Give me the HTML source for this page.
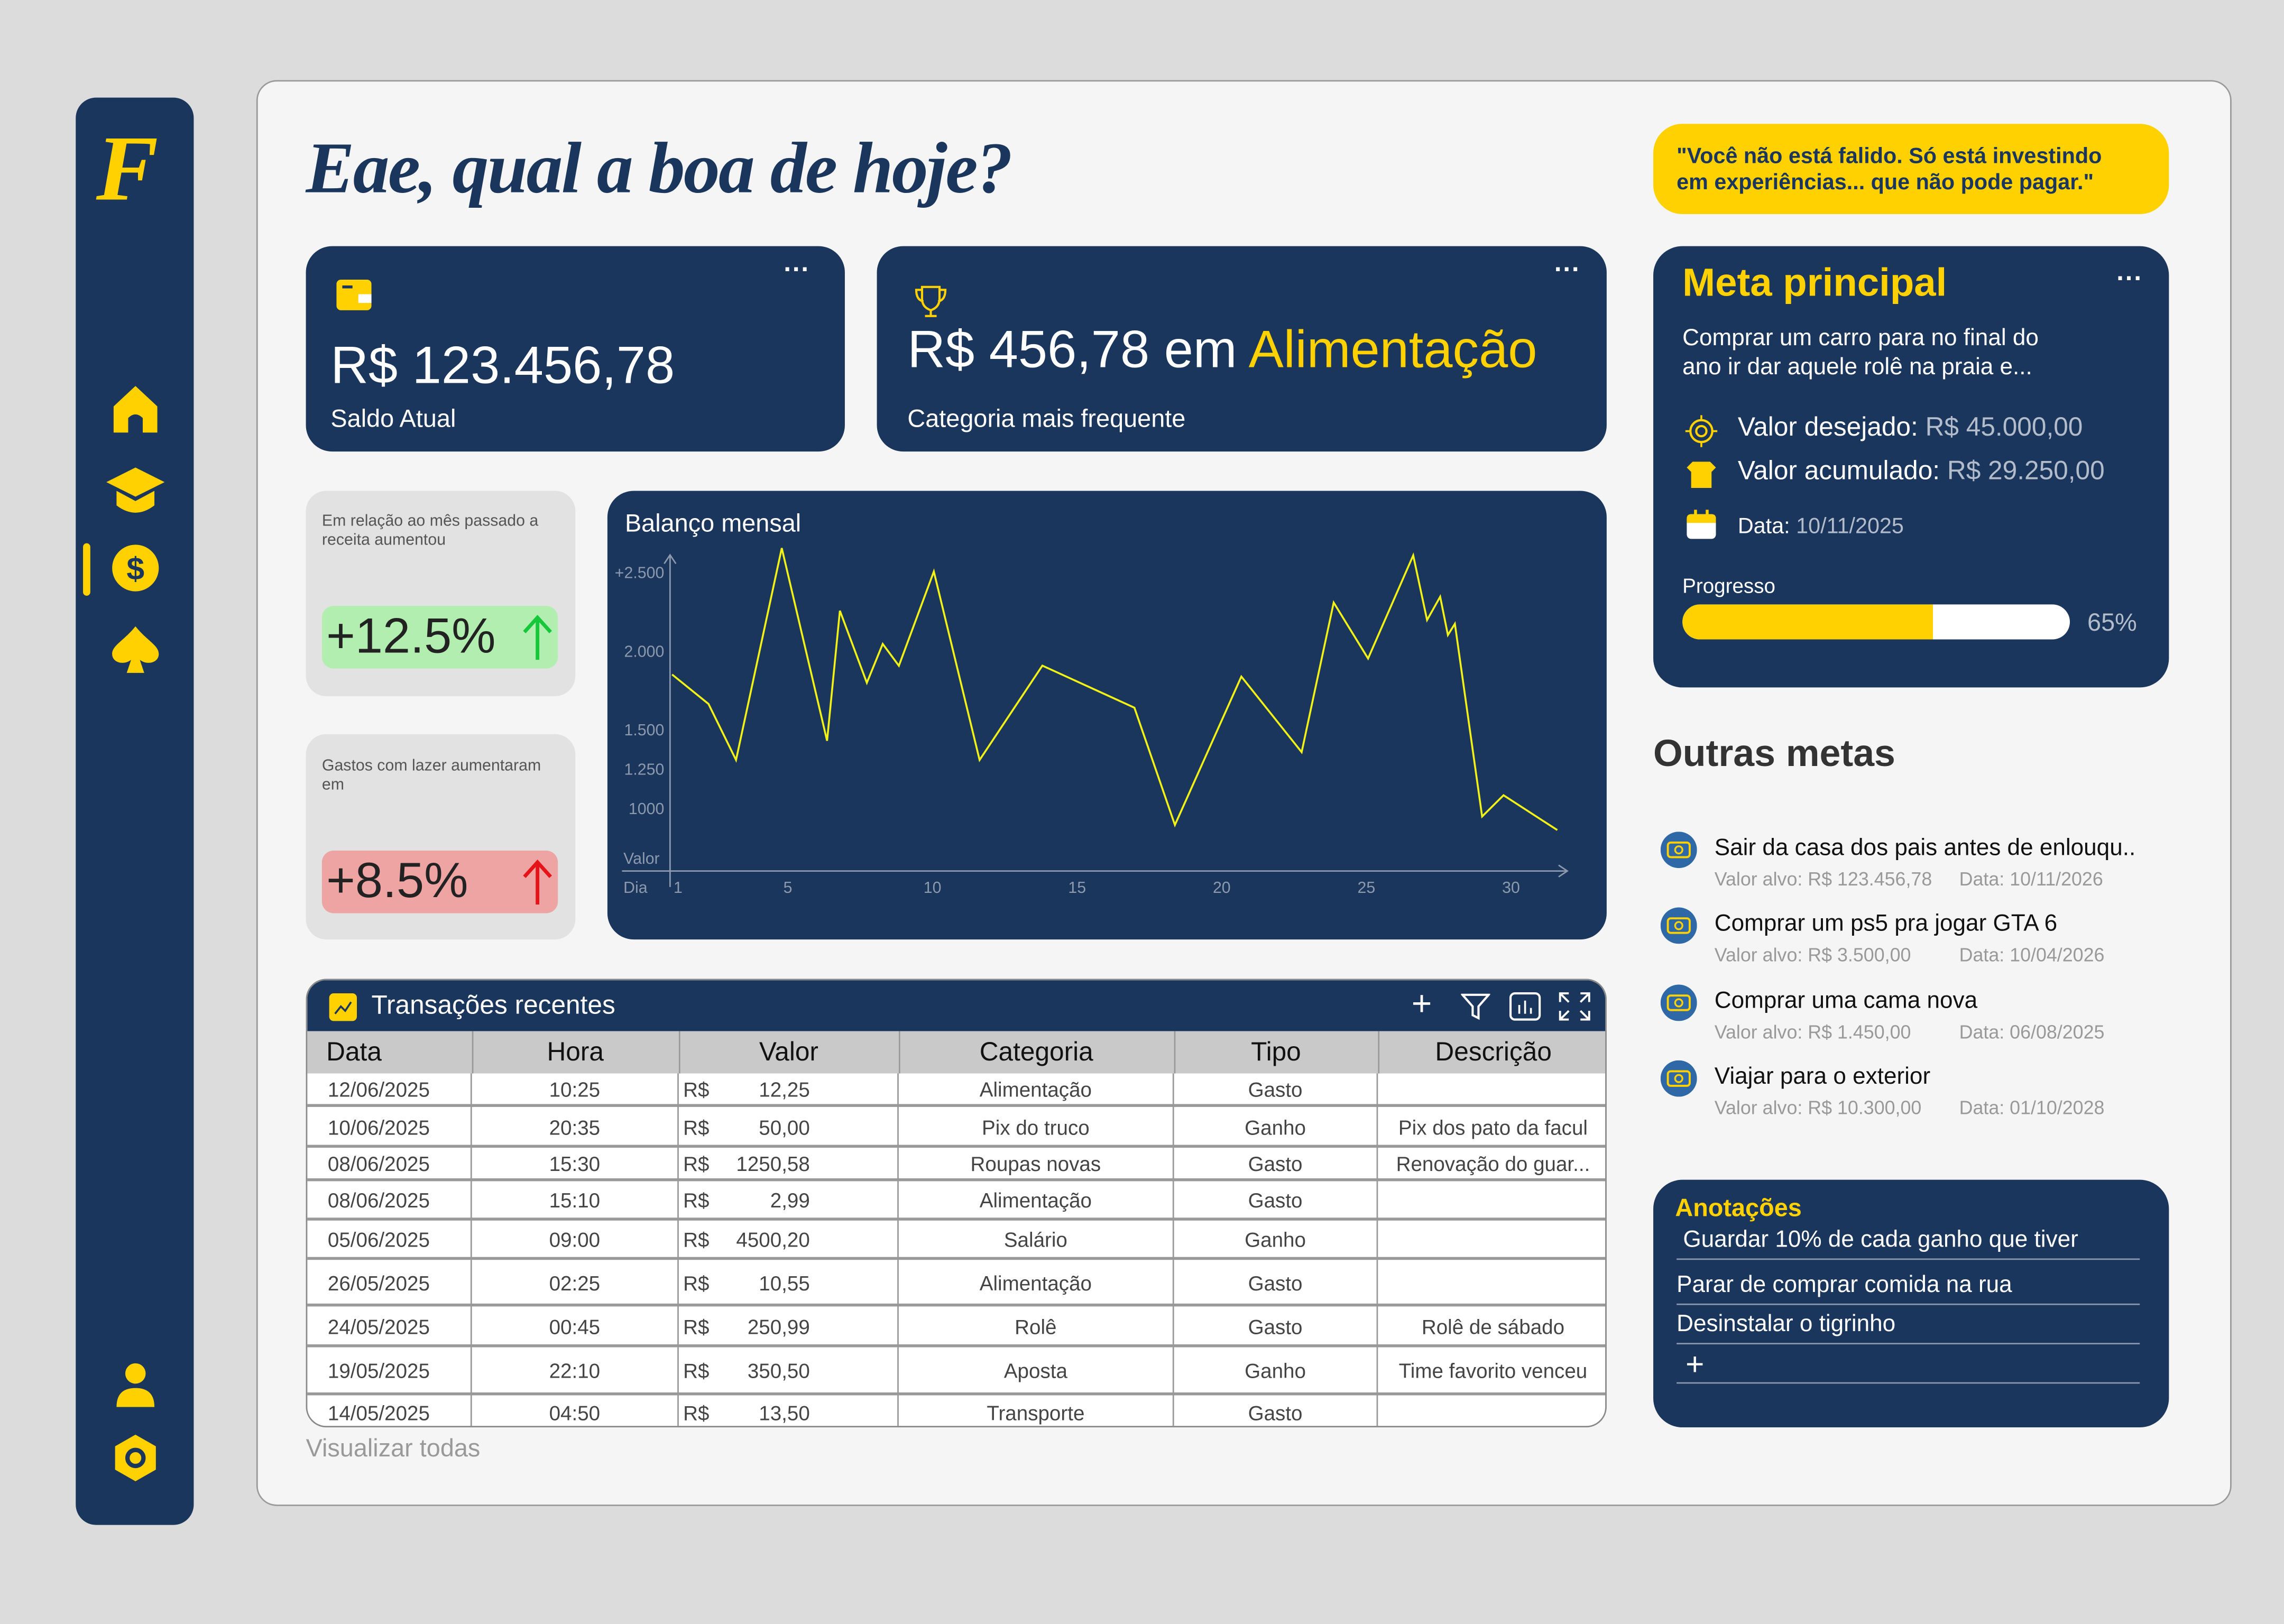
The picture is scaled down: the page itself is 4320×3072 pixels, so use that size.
<!DOCTYPE html>
<html><head><meta charset="utf-8">
<style>
html,body{margin:0;padding:0;}
body{width:4320px;height:3072px;overflow:hidden;background:#dcdcdc;font-family:"Liberation Sans",sans-serif;}
#root{position:absolute;left:0;top:0;width:1568px;height:1115px;transform:scale(2.75510,2.75516);transform-origin:0 0;background:#dcdcdc;}
.a{position:absolute;}
.dark{background:#1b365d;color:#fff;}
.t{position:absolute;white-space:nowrap;}
table{border-collapse:collapse;}
</style></head>
<body>
<div id="root">
<!-- sidebar -->
<div class="a dark" style="left:52px;top:67px;width:81px;height:980px;border-radius:14px;">
 <div class="t" style="left:14px;top:12px;font:italic bold 64px 'Liberation Serif',serif;color:#ffd100;">F</div>
 <svg class="a" style="left:24px;top:196px" width="34" height="36" viewBox="0 0 34 36"><path d="M17 2 L32 16 V34 H22 V24 Q17 19 12 24 V34 H2 V16 Z" fill="#ffd100"/></svg>
 <svg class="a" style="left:20px;top:252px" width="42" height="36" viewBox="0 0 42 36"><path d="M21 2 L41 12 L21 22 L1 12 Z" fill="#ffd100"/><path d="M8 18 V28 Q21 38 34 28 V18 L21 25 Z" fill="#ffd100"/></svg>
 <div class="a" style="left:5px;top:306px;width:5px;height:36px;background:#ffd100;border-radius:3px"></div>
 <svg class="a" style="left:24px;top:306px" width="34" height="34" viewBox="0 0 34 34"><circle cx="17" cy="17" r="16" fill="#ffd100"/><text x="17" y="25" text-anchor="middle" font-size="22" font-family="Liberation Sans" font-weight="bold" fill="#1b365d">$</text></svg>
 <svg class="a" style="left:23px;top:361px" width="36" height="36" viewBox="0 0 36 36"><path d="M18 2 C10 12 2 15 2 21 C2 27 10 29 15 25 L12 34 H24 L21 25 C26 29 34 27 34 21 C34 15 26 12 18 2Z" fill="#ffd100"/></svg>
 <svg class="a" style="left:27px;top:868px" width="28" height="32" viewBox="0 0 28 32"><circle cx="14" cy="8" r="7" fill="#ffd100"/><path d="M1 31 Q1 18 14 18 Q27 18 27 31 Z" fill="#ffd100"/></svg>
 <svg class="a" style="left:25px;top:917px" width="32" height="34" viewBox="0 0 32 34"><path d="M16 1 L30 9 V25 L16 33 L2 25 V9 Z" fill="#ffd100"/><circle cx="16" cy="17" r="5.5" fill="none" stroke="#1b365d" stroke-width="3"/></svg>
</div>
<!-- main panel -->
<div class="a" style="left:176px;top:55px;width:1354px;height:977px;background:#f5f5f5;border:1px solid #9a9a9a;border-radius:14px;"></div>
<div class="t" style="left:210px;top:86px;font:italic bold 50px 'Liberation Serif',serif;color:#1b365d;letter-spacing:-1px">Eae, qual a boa de hoje?</div>

<!-- card 1 -->
<div class="a dark" style="left:210px;top:169px;width:370px;height:141px;border-radius:18px;">
 <div class="a" style="left:21px;top:23px;width:24px;height:21px;background:#ffd100;border-radius:3px"><div class="a" style="left:15px;top:10px;width:9px;height:6px;background:#fff"></div><div class="a" style="left:4px;top:4px;width:7px;height:2px;background:#1b365d"></div></div>
 <div class="t" style="left:328px;top:6px;font-size:18px;font-weight:bold">···</div>
 <div class="t" style="left:17px;top:61px;font-size:36px">R$ 123.456,78</div>
 <div class="t" style="left:17px;top:109px;font-size:17px">Saldo Atual</div>
</div>
<!-- card 2 -->
<div class="a dark" style="left:602px;top:169px;width:501px;height:141px;border-radius:18px;">
 <svg class="a" style="left:24px;top:26px" width="26" height="24" viewBox="0 0 26 24"><path d="M7 2 H19 V10 Q19 16 13 18 Q7 16 7 10 Z M7 4 H3 Q3 11 8 12 M19 4 H23 Q23 11 18 12 M13 18 V22 M9 22 H17" fill="none" stroke="#ffd100" stroke-width="1.5"/></svg>
 <div class="t" style="left:465px;top:6px;font-size:18px;font-weight:bold">···</div>
 <div class="t" style="left:21px;top:50px;font-size:36px">R$ 456,78 em <span style="color:#ffd100">Alimentação</span></div>
 <div class="t" style="left:21px;top:109px;font-size:17px">Categoria mais frequente</div>
</div>
<!-- small cards -->
<div class="a" style="left:210px;top:337px;width:185px;height:141px;background:#e2e2e2;border-radius:14px">
 <div class="a" style="left:11px;top:15px;width:165px;font-size:11px;color:#555;line-height:13px">Em relação ao mês passado a receita aumentou</div>
 <div class="a" style="left:11px;top:79px;width:162px;height:43px;background:#b2eeb0;border-radius:8px">
  <div class="t" style="left:3px;top:2px;font-size:34px;color:#222">+12.5%</div>
  <svg class="a" style="left:137px;top:5px" width="22" height="34" viewBox="0 0 22 34"><path d="M11 32 V3 M2 13 L11 3 L20 13" fill="none" stroke="#16c73a" stroke-width="2.5"/></svg>
 </div>
</div>
<div class="a" style="left:210px;top:504px;width:185px;height:141px;background:#e2e2e2;border-radius:14px">
 <div class="a" style="left:11px;top:16px;width:165px;font-size:11px;color:#555;line-height:13px">Gastos com lazer aumentaram em</div>
 <div class="a" style="left:11px;top:80px;width:162px;height:43px;background:#eea4a3;border-radius:8px">
  <div class="t" style="left:3px;top:2px;font-size:34px;color:#222">+8.5%</div>
  <svg class="a" style="left:137px;top:5px" width="22" height="34" viewBox="0 0 22 34"><path d="M11 32 V3 M2 13 L11 3 L20 13" fill="none" stroke="#e5141a" stroke-width="2.5"/></svg>
 </div>
</div>
<!-- chart -->
<div class="a dark" style="left:417px;top:337px;width:686px;height:308px;border-radius:18px;">
 <div class="t" style="left:12px;top:13px;font-size:17px">Balanço mensal</div>
 <svg id="chart" class="a" style="left:0;top:0" width="686" height="308"></svg>
</div>

<!-- table -->
<div class="a" style="left:210px;top:672px;width:893px;height:308px;border:1px solid #888;border-radius:14px;background:#fff;overflow:hidden;box-sizing:border-box">
 <div class="a dark" style="left:0;top:0;width:893px;height:35px">
  <div class="a" style="left:15px;top:9px;width:19px;height:19px;background:#ffd100;border-radius:3px"><svg width="19" height="19"><path d="M4 14 L8 9 L11 12 L15 6" fill="none" stroke="#1b365d" stroke-width="1.3"/></svg></div>
  <div class="t" style="left:44px;top:7px;font-size:18px">Transações recentes</div>
  <div class="t" style="left:758px;top:3px;font-size:24px;font-weight:300">+</div>
  <svg class="a" style="left:792px;top:8px" width="20" height="20"><path d="M1 2 H19 L12 10 V18 L8 16 V10 Z" fill="none" stroke="#fff" stroke-width="1.5"/></svg>
  <svg class="a" style="left:825px;top:8px" width="22" height="20"><rect x="1" y="1" width="20" height="18" rx="3" fill="none" stroke="#fff" stroke-width="1.5"/><path d="M7 15V9 M11 15V6 M15 15V11" stroke="#fff" stroke-width="1.3"/></svg>
  <svg class="a" style="left:859px;top:8px" width="22" height="20"><path d="M1 7V1H7 M15 1H21V7 M21 13V19H15 M7 19H1V13 M1 1L7 7 M21 1L15 7 M21 19L15 13 M1 19L7 13" fill="none" stroke="#fff" stroke-width="1.4"/></svg>
 </div>
 <table class="a" style="left:0;top:35px;width:893px;font-size:14px;color:#333">
  <colgroup><col style="width:113px"><col style="width:142px"><col style="width:151px"><col style="width:189px"><col style="width:140px"><col style="width:158px"></colgroup>
  <tr style="height:29px;background:#c9c9c9;font-size:18px;color:#111">
   <th style="font-weight:normal;text-align:left;padding-left:13px;border-right:1px solid #999">Data</th><th style="font-weight:normal;border-right:1px solid #999">Hora</th><th style="font-weight:normal;border-right:1px solid #999">Valor</th><th style="font-weight:normal;border-right:1px solid #999">Categoria</th><th style="font-weight:normal;border-right:1px solid #999">Tipo</th><th style="font-weight:normal">Descrição</th></tr>
 </table>
 <div id="rows"></div>
</div>
<div class="t" style="left:210px;top:985px;font-size:17px;color:#999">Visualizar todas</div>

<!-- quote -->
<div class="a" style="left:1135px;top:85px;width:354px;height:62px;background:#ffd100;border-radius:20px">
 <div class="a" style="left:16px;top:14px;font-size:15px;font-weight:bold;color:#1b365d;line-height:18px;white-space:nowrap">"Você não está falido. Só está investindo<br>em experiências... que não pode pagar."</div>
</div>
<!-- main goal -->
<div class="a dark" style="left:1135px;top:169px;width:354px;height:303px;border-radius:20px">
 <div class="t" style="left:20px;top:10px;font-size:27px;font-weight:bold;color:#ffd100">Meta principal</div>
 <div class="t" style="left:318px;top:12px;font-size:18px;font-weight:bold">···</div>
 <div class="a" style="left:20px;top:54px;font-size:16px;line-height:20px;white-space:nowrap">Comprar um carro para no final do<br>ano ir dar aquele rolê na praia e...</div>
 <svg class="a" style="left:22px;top:116px" width="22" height="22"><circle cx="11" cy="11" r="7.5" fill="none" stroke="#ffd100" stroke-width="1.5"/><circle cx="11" cy="11" r="3.5" fill="none" stroke="#ffd100" stroke-width="1.5"/><path d="M11 0V3.5 M11 18.5V22 M0 11H3.5 M18.5 11H22" stroke="#ffd100" stroke-width="1.3"/></svg>
 <div class="t" style="left:58px;top:114px;font-size:18px">Valor desejado: <span style="color:#b3bccb">R$ 45.000,00</span></div>
 <svg class="a" style="left:22px;top:147px" width="22" height="20"><path d="M1 5 L5 1 H17 L21 5 L18 8 V19 H4 V8 Z" fill="#ffd100"/></svg>
 <div class="t" style="left:58px;top:144px;font-size:18px">Valor acumulado: <span style="color:#b3bccb">R$ 29.250,00</span></div>
 <svg class="a" style="left:22px;top:180px" width="22" height="22"><rect x="1" y="4" width="20" height="17" rx="3" fill="#fff"/><path d="M1 7 Q1 4 4 4 H18 Q21 4 21 7 V10 H1 Z" fill="#ffd100"/><path d="M7 1V7 M15 1V7" stroke="#ffd100" stroke-width="2"/></svg>
 <div class="t" style="left:58px;top:184px;font-size:15px">Data: <span style="color:#b3bccb">10/11/2025</span></div>
 <div class="t" style="left:20px;top:225px;font-size:14px">Progresso</div>
 <div class="a" style="left:20px;top:246px;width:266px;height:24px;background:#fff;border-radius:12px;overflow:hidden"><div style="width:172px;height:24px;background:#ffd100"></div></div>
 <div class="t" style="left:298px;top:249px;font-size:17px;color:#b3bccb">65%</div>
</div>
<div class="t" style="left:1135px;top:502px;font-size:26px;font-weight:bold;color:#333">Outras metas</div>
<div id="goals"></div>
<!-- notes -->
<div class="a dark" style="left:1135px;top:810px;width:354px;height:170px;border-radius:20px">
 <div class="t" style="left:15px;top:10px;font-size:17px;font-weight:bold;color:#ffd100">Anotações</div>
 <div class="a" style="left:16px;top:33px;width:318px;height:21px;border-bottom:1.5px solid #8a97ad;font-size:16px">&nbsp;Guardar 10% de cada ganho que tiver</div>
 <div class="a" style="left:16px;top:64px;width:318px;height:21px;border-bottom:1.5px solid #8a97ad;font-size:16px">Parar de comprar comida na rua</div>
 <div class="a" style="left:16px;top:91px;width:318px;height:21px;border-bottom:1.5px solid #8a97ad;font-size:16px">Desinstalar o tigrinho</div>
 <div class="a" style="left:16px;top:114px;width:318px;height:25px;border-bottom:1.5px solid #8a97ad;font-size:22px;font-weight:300">&nbsp;+</div>
</div>
</div>
<script>
// ---- chart data ----
const days=[1,2.26,3.21,4.79,6.36,6.8,7.73,8.28,8.84,10.05,11.63,13.8,16.98,18.38,20.68,22.76,23.87,25.06,26.62,27.1,27.55,27.82,28.06,29.0,29.74,31.6];
const values=[1850,1663,1307,2653,1429,2255,1797,2044,1906,2504,1307,1907,1639,895,1837,1357,2307,1952,2607,2196,2344,2101,2172,948,1083,862];
const yTicks=[1000,1250,1500,2000,2500];
const yTickLabels=['1000','1.250','1.500','2.000','+2.500'];
const xTicks=[1,5,10,15,20,25,30];
const NS='http://www.w3.org/2000/svg';
const svg=document.getElementById('chart');
function xs(d){return 44.4+(d-1)*19.86;}
function ys(v){return 218-(v-1000)*0.1081;}
function mk(tag,attrs){const e=document.createElementNS(NS,tag);for(const k in attrs)e.setAttribute(k,attrs[k]);svg.appendChild(e);return e;}
let ax=mk('path',{d:'M43 272 V44 M39 50 L43 44 L47 50',stroke:'#8d99ad',fill:'none','stroke-width':1});


let bx=mk('path',{d:'M10 261 H659 M653 257 L659 261 L653 265',stroke:'#8d99ad',fill:'none','stroke-width':1});


yTicks.forEach((v,i)=>{const t=mk('text',{x:39,y:ys(v)+4,'text-anchor':'end','font-size':11,fill:'#8d99ad','font-family':'Liberation Sans'});t.textContent=yTickLabels[i];

});
xTicks.forEach(d=>{const t=mk('text',{x:xs(d)+(d===1?1:0),y:276,'text-anchor':d===1?'start':'middle','font-size':11,fill:'#8d99ad','font-family':'Liberation Sans'});t.textContent=String(d);

});
let vl=mk('text',{x:11,y:256,'font-size':11,fill:'#8d99ad','font-family':'Liberation Sans'});vl.textContent='Valor';


let dl=mk('text',{x:11,y:276,'font-size':11,fill:'#8d99ad','font-family':'Liberation Sans'});dl.textContent='Dia';


let ln=mk('polyline',{points:days.map((d,i)=>xs(d).toFixed(1)+','+ys(values[i]).toFixed(1)).join(' '),fill:'none',stroke:'#f2f215','stroke-width':1.3});



// ---- table ----
const rows=[
['12/06/2025','10:25','12,25','Alimentação','Gasto','',23],
['10/06/2025','20:35','50,00','Pix do truco','Ganho','Pix dos pato da facul',28],
['08/06/2025','15:30','1250,58','Roupas novas','Gasto','Renovação do guar...',23],
['08/06/2025','15:10','2,99','Alimentação','Gasto','',27],
['05/06/2025','09:00','4500,20','Salário','Ganho','',27],
['26/05/2025','02:25','10,55','Alimentação','Gasto','',32],
['24/05/2025','00:45','250,99','Rolê','Gasto','Rolê de sábado',28],
['19/05/2025','22:10','350,50','Aposta','Ganho','Time favorito venceu',33],
['14/05/2025','04:50','13,50','Transporte','Gasto','',24]];
const cols=[0,113,255,406,595,735,893];
const rc=document.getElementById('rows');
let y=64;
rows.forEach((r,i)=>{
 const row=document.createElement('div');
 row.className='a';
 row.style.cssText=`left:0;top:${y}px;width:893px;height:${r[6]}px;border-bottom:${i<8?'2px solid #999':'none'};box-sizing:border-box;font-size:14px;color:#444`;
 
 
 const cells=[r[0],r[1],'',r[3],r[4],r[5]];
 for(let c=0;c<6;c++){
  const d=document.createElement('div');d.className='a';
  d.style.cssText=`left:${cols[c]}px;top:0;width:${cols[c+1]-cols[c]}px;height:${r[6]}px;line-height:${r[6]}px;${c<5?'border-right:1px solid #999;':''}box-sizing:border-box;text-align:${c===0?'left':'center'};padding-left:${c===0?14:0}px;white-space:nowrap;overflow:hidden`;
  if(c===2){d.innerHTML=`<span style="position:absolute;left:3px">R$</span><span style="position:absolute;right:60px">${r[2]}</span>`;}
  else d.textContent=cells[c];
  
  
  row.appendChild(d);
 }
 rc.appendChild(row);y+=r[6];
});

// ---- goals ----
const goals=[['Sair da casa dos pais antes de enlouqu..','R$ 123.456,78','10/11/2026'],['Comprar um ps5 pra jogar GTA 6','R$ 3.500,00','10/04/2026'],['Comprar uma cama nova','R$ 1.450,00','06/08/2025'],['Viajar para o exterior','R$ 10.300,00','01/10/2028']];
const gc=document.getElementById('goals');
goals.forEach((g,i)=>{
 const top=571+i*52.3;
 const el=document.createElement('div');el.className='a';
 el.style.cssText=`left:1140px;top:${top}px;width:350px;height:44px`;
 
 
 el.innerHTML=`<svg class="a" style="left:0;top:0" width="25" height="25"><circle cx="12.5" cy="12.5" r="12.5" fill="#2f68a6"/><rect x="5" y="7.5" width="15" height="10" rx="2" fill="none" stroke="#ffd100" stroke-width="1.4"/><circle cx="12.5" cy="12.5" r="2.5" fill="none" stroke="#ffd100" stroke-width="1.2"/></svg>
 <div class="t" style="left:37px;top:3px;font-size:16px;color:#111">${g[0]}</div>
 <div class="t" style="left:37px;top:25px;font-size:13px;color:#999">Valor alvo: ${g[1]}</div>
 <div class="t" style="left:205px;top:25px;font-size:13px;color:#999">Data: ${g[2]}</div>`;
 gc.appendChild(el);
});
</script>
</body></html>
